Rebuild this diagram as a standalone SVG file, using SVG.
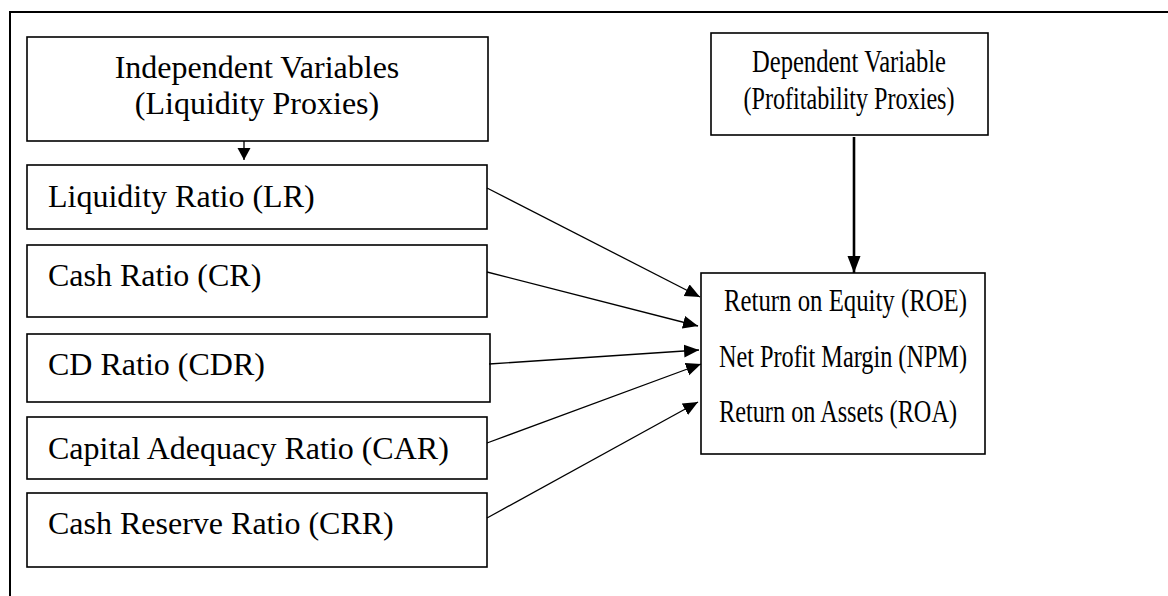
<svg xmlns="http://www.w3.org/2000/svg" width="1168" height="596" viewBox="0 0 1168 596">
<style>
.box{fill:#fff;stroke:#000;stroke-width:1.6}
.t{font-family:"Liberation Serif","Times New Roman",serif;font-size:32px;fill:#000}
.c{text-anchor:middle}
.ln{stroke:#000;stroke-width:1.3;fill:none}
.thick{stroke:#000;stroke-width:2.6;fill:none}
</style>
<defs>
<marker id="ah" markerUnits="userSpaceOnUse" markerWidth="16" markerHeight="14" refX="15" refY="6.5" orient="auto">
<path d="M0,0 L15,6.5 L0,13 z" fill="#000"/>
</marker>
<marker id="ahv" markerUnits="userSpaceOnUse" markerWidth="18" markerHeight="14" refX="17" refY="6.5" orient="auto">
<path d="M0,0 L17,6.5 L0,13 z" fill="#000"/>
</marker>
<marker id="ahs" markerUnits="userSpaceOnUse" markerWidth="14" markerHeight="14" refX="12" refY="6.5" orient="auto">
<path d="M0,0 L12,6.5 L0,13 z" fill="#000"/>
</marker>
</defs>
<rect x="0" y="0" width="1168" height="596" fill="#fff"/>
<rect id="frame" x="10" y="12" width="1170" height="600" fill="none" stroke="#000" stroke-width="2"/>

<g id="independent">
<rect class="box" x="27" y="37" width="461" height="104"/>
<text class="t c" x="257" y="78">Independent Variables</text>
<text class="t c" x="257" y="114">(Liquidity Proxies)</text>
</g>
<g id="lr">
<rect class="box" x="27" y="165" width="460" height="64"/>
<text class="t" x="48" y="207">Liquidity Ratio (LR)</text>
</g>
<g id="cr">
<rect class="box" x="27" y="245" width="460" height="72"/>
<text class="t" x="48" y="286">Cash Ratio (CR)</text>
</g>
<g id="cdr">
<rect class="box" x="27" y="334" width="463" height="68"/>
<text class="t" x="48" y="375">CD Ratio (CDR)</text>
</g>
<g id="car">
<rect class="box" x="27" y="417" width="460" height="62"/>
<text class="t" x="48" y="459">Capital Adequacy Ratio (CAR)</text>
</g>
<g id="crr">
<rect class="box" x="27" y="493" width="460" height="74"/>
<text class="t" x="48" y="534">Cash Reserve Ratio (CRR)</text>
</g>
<g id="dependent">
<rect class="box" x="711" y="33" width="277" height="102"/>
<text class="t c" x="849" y="72" textLength="194" lengthAdjust="spacingAndGlyphs">Dependent Variable</text>
<text class="t c" x="849" y="109" textLength="211" lengthAdjust="spacingAndGlyphs">(Profitability Proxies)</text>
</g>
<g id="profitability">
<rect class="box" x="701" y="273" width="284" height="181"/>
<text class="t" x="724" y="311" textLength="243" lengthAdjust="spacingAndGlyphs">Return on Equity (ROE)</text>
<text class="t" x="719" y="367" textLength="248" lengthAdjust="spacingAndGlyphs">Net Profit Margin (NPM)</text>
<text class="t" x="719" y="422" textLength="238" lengthAdjust="spacingAndGlyphs">Return on Assets (ROA)</text>
</g>
<g id="connectors">
<line class="ln" x1="244" y1="141" x2="244" y2="160" marker-end="url(#ahs)"/>
<line class="thick" x1="854" y1="137" x2="854" y2="273" marker-end="url(#ahv)"/>
<line class="ln" x1="487" y1="188" x2="700" y2="297" marker-end="url(#ah)"/>
<line class="ln" x1="487" y1="272" x2="698" y2="326" marker-end="url(#ah)"/>
<line class="ln" x1="489" y1="364" x2="699" y2="350" marker-end="url(#ah)"/>
<line class="ln" x1="487" y1="443" x2="701" y2="364" marker-end="url(#ah)"/>
<line class="ln" x1="487" y1="518" x2="698" y2="402" marker-end="url(#ah)"/>
</g>
</svg>
